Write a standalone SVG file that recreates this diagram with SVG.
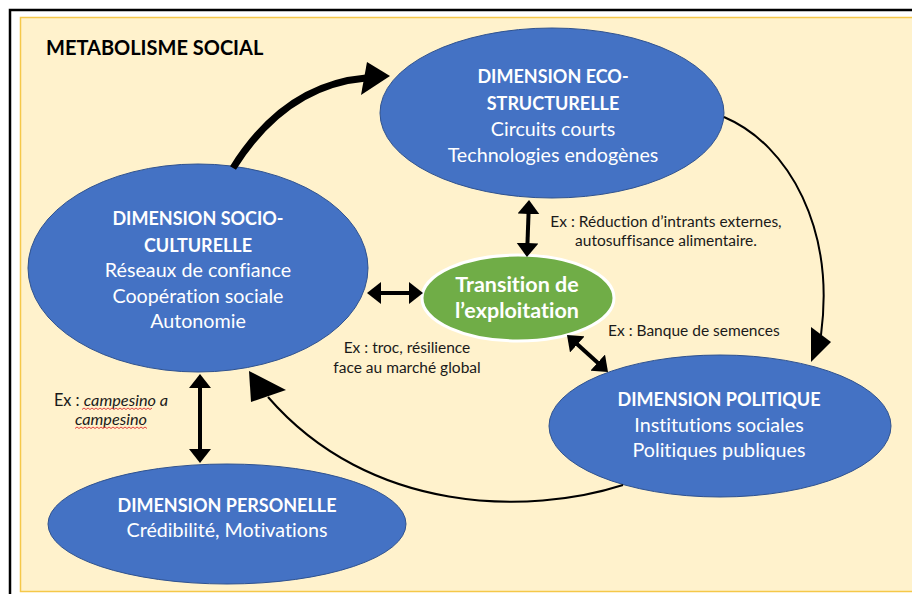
<svg xmlns="http://www.w3.org/2000/svg" width="912" height="594" viewBox="0 0 912 594">
<style>
text{font-variant-ligatures:none;font-feature-settings:"liga" 0,"clig" 0,"dlig" 0,"calt" 0}
.node{fill:#4472C4;stroke:#2F528F;stroke-width:1}
.green{fill:#70AD47;stroke:#FFFFFF;stroke-width:3}
.t{font-family:Lato,"Open Sans",sans-serif;fill:#FFFFFF;text-anchor:middle}
.h{font-weight:bold;font-size:18px}
.b{font-size:19.7px}
.lab{font-family:Lato,"Open Sans",sans-serif;fill:#1a1a1a;font-size:15.5px}
.thin{fill:none;stroke:#000;stroke-width:2}
.dbl{fill:none;stroke:#000;stroke-width:4;marker-start:url(#ah);marker-end:url(#ah)}
.wavy{fill:none;stroke:#E03030;stroke-width:0.9}
</style>
<defs>
<marker id="ah" markerUnits="userSpaceOnUse" markerWidth="14" markerHeight="22" refX="2" refY="11" orient="auto-start-reverse">
<path d="M0,0 L14,11 L0,22 Z" fill="#000"/>
</marker>
</defs>
<rect x="0" y="0" width="912" height="594" fill="#FFFFFF"/>
<rect x="10" y="10" width="930" height="620" fill="#FFFFFF" stroke="#000" stroke-width="2.5"/>
<rect x="20.5" y="17.5" width="920" height="574" fill="#FFF2CC" stroke="#F5C84A" stroke-width="1.5"/>
<text x="46" y="55" style="font-family:Lato,'Open Sans',sans-serif;font-weight:bold;font-size:20px;fill:#000">METABOLISME SOCIAL</text>

<g id="eco">
<ellipse class="node" cx="552" cy="113" rx="172" ry="85"/>
<text class="t h" x="553" y="83">DIMENSION ECO-</text>
<text class="t h" x="553" y="110">STRUCTURELLE</text>
<text class="t b" x="553" y="136">Circuits courts</text>
<text class="t b" x="553" y="162">Technologies endogènes</text>
</g>
<g id="socio">
<ellipse class="node" cx="198" cy="268" rx="170" ry="104"/>
<text class="t h" x="198" y="225">DIMENSION SOCIO-</text>
<text class="t h" x="198" y="252">CULTURELLE</text>
<text class="t b" x="198" y="277">Réseaux de confiance</text>
<text class="t b" x="198" y="303">Coopération sociale</text>
<text class="t b" x="198" y="328">Autonomie</text>
</g>
<g id="transition">
<ellipse class="green" cx="518" cy="298" rx="96" ry="43"/>
<text class="t" x="517" y="292" style="font-weight:bold;font-size:21.5px">Transition de</text>
<text class="t" x="517" y="318" style="font-weight:bold;font-size:21.5px">l’exploitation</text>
</g>
<g id="politique">
<ellipse class="node" cx="720" cy="426" rx="171" ry="71"/>
<text class="t h" x="719" y="406">DIMENSION POLITIQUE</text>
<text class="t b" x="719" y="432">Institutions sociales</text>
<text class="t b" x="719" y="457">Politiques publiques</text>
</g>
<g id="personelle">
<ellipse class="node" cx="227" cy="524" rx="179" ry="60"/>
<text class="t h" x="227" y="512">DIMENSION PERSONELLE</text>
<text class="t b" x="227" y="537">Crédibilité, Motivations</text>
</g>

<g id="connectors">
<path d="M233,168 Q285,85 366,78" fill="none" stroke="#000" stroke-width="7"/>
<polygon points="390,76 367,62 361,95" fill="#000"/>
<path class="thin" d="M724,117 C790,145 835,230 821,335"/>
<polygon points="811,362 811,327 831,342" fill="#000"/>
<path class="thin" d="M623,485 C530,515 370,515 268,397"/>
<polygon points="249,371 286,390 251,402" fill="#000"/>
<line class="dbl" x1="379" y1="293" x2="411" y2="293"/>
<line class="dbl" x1="528.6" y1="212" x2="527.4" y2="245"/>
<line class="dbl" x1="575.9" y1="343" x2="599.1" y2="364"/>
<line class="dbl" x1="200" y1="386" x2="200" y2="451"/>
</g>

<g id="labels">
<text class="lab" x="666" y="227" text-anchor="middle">Ex : Réduction d’intrants externes,</text>
<text class="lab" x="666" y="246" text-anchor="middle">autosuffisance alimentaire.</text>
<text class="lab" x="608" y="336">Ex : Banque de semences</text>
<text class="lab" x="407" y="353" text-anchor="middle">Ex : troc, résilience</text>
<text class="lab" x="407" y="373" text-anchor="middle">face au marché global</text>
<text class="lab" x="111" y="406" text-anchor="middle" style="font-size:16.3px">Ex : <tspan font-style="italic">campesino a</tspan></text>
<text class="lab" x="111" y="425" text-anchor="middle" font-style="italic" style="font-size:16.3px">campesino</text>
<path class="wavy" d="M82,409.5 l2,-1.5 l2,1.5 l2,-1.5 l2,1.5 l2,-1.5 l2,1.5 l2,-1.5 l2,1.5 l2,-1.5 l2,1.5 l2,-1.5 l2,1.5 l2,-1.5 l2,1.5 l2,-1.5 l2,1.5 l2,-1.5 l2,1.5 l2,-1.5 l2,1.5 l2,-1.5 l2,1.5 l2,-1.5 l2,1.5 l2,-1.5 l2,1.5 l2,-1.5 l2,1.5 l2,-1.5 l2,1.5 l2,-1.5 l2,1.5 l2,-1.5 l2,1.5 l2,-1.5"/>
<path class="wavy" d="M75,428.5 l2,-1.5 l2,1.5 l2,-1.5 l2,1.5 l2,-1.5 l2,1.5 l2,-1.5 l2,1.5 l2,-1.5 l2,1.5 l2,-1.5 l2,1.5 l2,-1.5 l2,1.5 l2,-1.5 l2,1.5 l2,-1.5 l2,1.5 l2,-1.5 l2,1.5 l2,-1.5 l2,1.5 l2,-1.5 l2,1.5 l2,-1.5 l2,1.5 l2,-1.5 l2,1.5 l2,-1.5 l2,1.5 l2,-1.5 l2,1.5 l2,-1.5 l2,1.5 l2,-1.5 l2,1.5"/>
</g>
</svg>
